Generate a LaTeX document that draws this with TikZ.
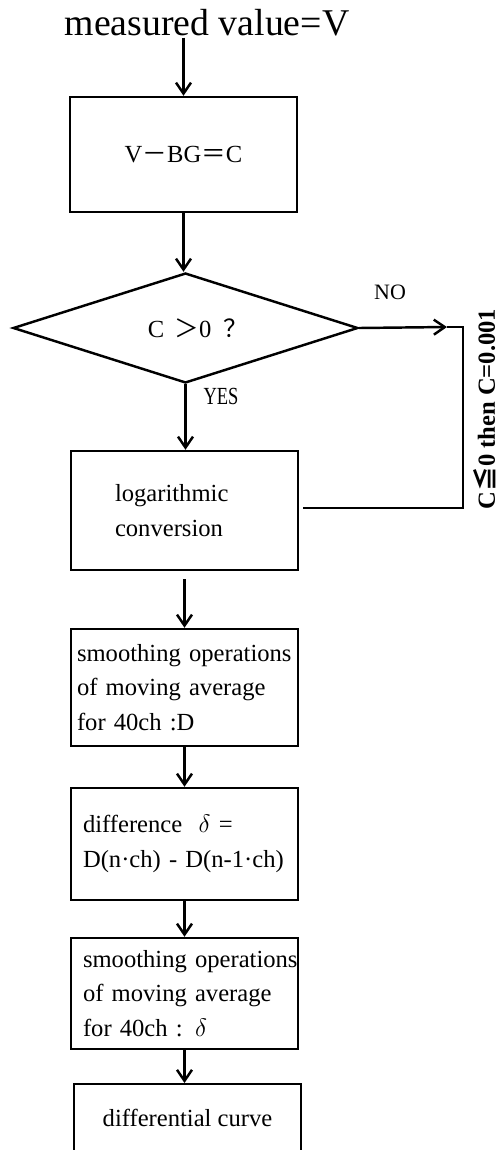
\documentclass[tikz,border=0pt]{standalone}
\usepackage{fontspec}
\setmainfont{Liberation Serif}
\newfontfamily\cjk{Noto Sans CJK SC}
\newfontfamily\narrowserif[FakeStretch=0.75]{Liberation Serif}
\usetikzlibrary{shapes.geometric,arrows.meta}
\tikzset{
	flow/.style={draw,line width=1.4pt,-{Straight Barb[length=2.2mm,width=3mm]}},
	edge/.style={draw,line width=1.4pt},
	procbox/.style={draw,line width=1.4pt,rectangle,minimum width=4.54cm,align=left,
		font=\fontsize{14}{19.6}\selectfont},
	decbox/.style={draw,line width=1.4pt,diamond,aspect=3.1,minimum width=6.9cm,
		minimum height=2.2cm,inner sep=0pt,font=\fontsize{14}{16}\selectfont}
}
\begin{document}
\begin{tikzpicture}[x=0.02cm,y=-0.02cm]
	\useasboundingbox (0,0) rectangle (502,1150);
	\clip (0,0) rectangle (502,1150);
	\node[anchor=base,inner sep=1pt,font=\fontsize{21.5}{24}\selectfont] (title) at (207,35) {measured value=V};
	\node[procbox,minimum height=2.3cm] (sub) at (183.5,154.5) {V{\cjk －}BG{\cjk ＝}C};
	\node[decbox] (dec) at (185.5,328) {\hspace*{0.5cm}C\ \,{\cjk ＞}0\ \ {\cjk ？}};
	\node[procbox,minimum height=2.38cm,text width=2.78cm,inner xsep=0.88cm] (logc) at (184.5,510.5) {logarithmic\\conversion};
	\node[procbox,minimum height=2.34cm,text width=4.3cm,inner xsep=0.12cm] (smD) at (184.5,687.5) {smoothing operations\\of moving average\\for 40ch :D};
	\node[procbox,minimum height=2.24cm,text width=4.06cm,inner xsep=0.24cm] (diff) at (184.5,844) {difference \ $\delta$ =\\D(n·ch) - D(n-1·ch)};
	\node[procbox,minimum height=2.22cm,text width=4.06cm,inner xsep=0.24cm] (smd) at (184.5,993.5) {\mbox{smoothing operations}\\of moving average\\for 40ch : $\delta$};
	\node[procbox,anchor=north,text height=0.34cm,text depth=1cm,inner ysep=0.5cm,align=center] (curve) at (187.5,1083) {differential curve};
	\node[font=\fontsize{12.5}{14}\selectfont] (nolbl) at (390,292) {NO};
	\node[font=\narrowserif\fontsize{14}{16}\selectfont] (yeslbl) at (221,396) {YES};
	\node[rotate=90,font=\bfseries\fontsize{14}{16}\selectfont] (rule) at (485,409) {C{\cjk ≦}0 then C=0.001};
	\coordinate (noarrow) at (447,327);
	\coordinate (nocorner) at (463,327);
	\coordinate (noback) at (303,508);
	\draw[flow] (title.south -| sub.north) -- (sub.north);
	\draw[flow] (sub.south) -- (sub.south |- dec.north);
	\draw[flow] (dec.south) -- (dec.south |- logc.north);
	\draw[flow] (dec.east) -- (noarrow);
	\draw[edge] (noarrow) -- (nocorner) |- (noback);
	\draw[flow,shorten <=0.16cm] (logc.south) -- (smD.north);
	\draw[flow] (smD.south) -- (diff.north);
	\draw[flow] (diff.south) -- (smd.north);
	\draw[flow] (smd.south) -- (smd.south |- curve.north);
\end{tikzpicture}
\end{document}
